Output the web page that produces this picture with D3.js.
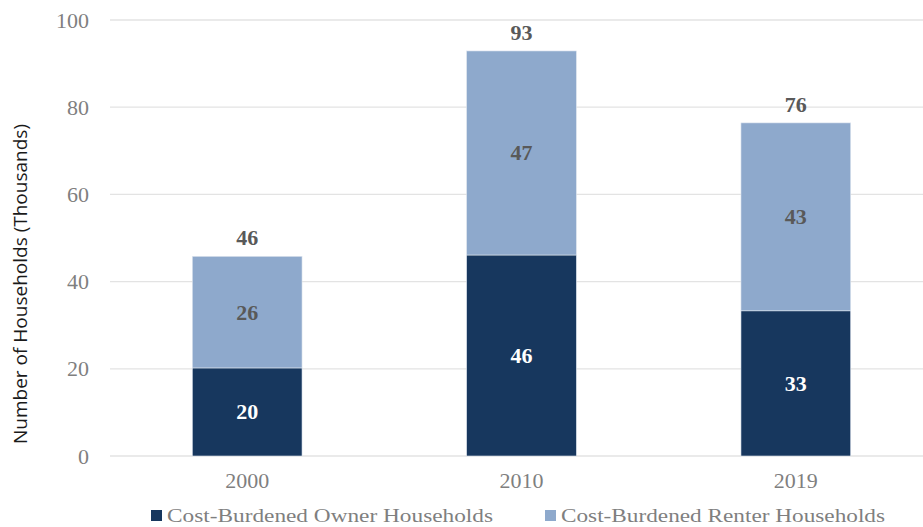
<!DOCTYPE html>
<html lang="en">
<head>
    <meta charset="UTF-8">
    <title>Cost-Burdened Households</title>
    <script src="https://d3js.org/d3.v7.min.js"></script>
    <style>
        body { margin: 0; background: #fff; }
    </style>
</head>
<body>
<div style="width: 923px;height: 527px" id="figure"></div>
<script>
    // data (thousands of households)
    let years = ["2000", "2010", "2019"];
    let owner = [20.2, 46.1, 33.3];
    let renter = [25.6, 46.8, 43.1];
    let yTicks = [0, 20, 40, 60, 80, 100];
    let seriesNames = ["Cost-Burdened Owner Households", "Cost-Burdened Renter Households"];

    let owner_color = "#17375e";
    let renter_color = "#8ea9cc";
    let serif = "'Liberation Serif', 'Times New Roman', serif";

    let figure = document.getElementById("figure");
    let w = figure.clientWidth;
    let h = figure.clientHeight;

    let svg = d3.select(figure).append("svg")
        .attr("width", w)
        .attr("height", h);

    let xScale = d3.scaleBand()
        .domain(years)
        .range([110, 933])
        .paddingInner(0.6)
        .paddingOuter(0.3);
    let yScale = d3.scaleLinear()
        .domain([0, 100])
        .range([456, 20]);

    // gridlines
    svg.append("g").selectAll("line")
        .data(yTicks)
        .join("line")
        .attr("x1", 110)
        .attr("x2", w)
        .attr("y1", d => yScale(d))
        .attr("y2", d => yScale(d))
        .style("stroke", "#e3e3e3")
        .style("stroke-width", 1.3);

    // y axis labels
    let yAxis = svg.append("g")
        .attr("transform", "translate(89,0)")
        .call(d3.axisLeft(yScale).tickValues(yTicks).tickSize(0).tickPadding(0));
    yAxis.select(".domain").remove();
    yAxis.selectAll("text")
        .style("font-family", serif)
        .style("font-size", "22px")
        .style("fill", "#7f7f7f");

    // x axis labels
    let xAxis = svg.append("g")
        .attr("transform", "translate(0,488)")
        .call(d3.axisBottom(xScale).tickSize(0).tickPadding(0));
    xAxis.select(".domain").remove();
    xAxis.selectAll("text")
        .attr("y", 0)
        .attr("dy", 0)
        .style("font-family", serif)
        .style("font-size", "22px")
        .style("fill", "#7f7f7f");

    // axis title
    svg.append("text")
        .attr("transform", "translate(27,284) rotate(-90)")
        .attr("text-anchor", "middle")
        .attr("textLength", 320)
        .attr("lengthAdjust", "spacingAndGlyphs")
        .style("font-family", "'Open Sans', sans-serif")
        .style("font-size", "18px")
        .style("fill", "#1a1a1a")
        .text("Number of Households (Thousands)");

    let rows = years.map((y, i) => ({year: y, owner: owner[i], renter: renter[i]}));
    let stack = d3.stack().keys(["owner", "renter"])(rows);
    let colors = {owner: owner_color, renter: renter_color};

    let bars = svg.append("g");
    stack.forEach(layer => {
        bars.selectAll(null)
            .data(layer)
            .join("rect")
            .attr("x", d => xScale(d.data.year))
            .attr("width", xScale.bandwidth())
            .attr("y", d => yScale(d[1]))
            .attr("height", d => yScale(d[0]) - yScale(d[1]))
            .style("fill", colors[layer.key])
            .style("stroke", "#dfe6ef")
            .style("stroke-width", 0.6);

        // segment labels
        bars.selectAll(null)
            .data(layer)
            .join("text")
            .attr("x", d => xScale(d.data.year) + xScale.bandwidth() / 2)
            .attr("y", d => (yScale(d[0]) + yScale(d[1])) / 2 + 7.5)
            .attr("text-anchor", "middle")
            .style("font-family", serif)
            .style("font-weight", "bold")
            .style("font-size", "22px")
            .style("fill", layer.key === "owner" ? "#ffffff" : "#595959")
            .text(d => Math.round(d[1] - d[0]));
    });

    // totals
    bars.selectAll(null)
        .data(rows)
        .join("text")
        .attr("x", d => xScale(d.year) + xScale.bandwidth() / 2)
        .attr("y", d => yScale(d.owner + d.renter) - 11)
        .attr("text-anchor", "middle")
        .style("font-family", serif)
        .style("font-weight", "bold")
        .style("font-size", "22px")
        .style("fill", "#595959")
        .text(d => Math.round(d.owner + d.renter));

    // legend
    let legendX = [151, 545];
    let legendW = [326, 324];
    let legend = svg.append("g");
    seriesNames.forEach((name, i) => {
        legend.append("rect")
            .attr("x", legendX[i])
            .attr("y", 510)
            .attr("width", 11)
            .attr("height", 11)
            .style("fill", i === 0 ? owner_color : renter_color);
        legend.append("text")
            .attr("x", legendX[i] + 16)
            .attr("y", 522)
            .attr("textLength", legendW[i])
            .attr("lengthAdjust", "spacingAndGlyphs")
            .style("font-family", serif)
            .style("font-size", "19px")
            .style("fill", "#7f7f7f")
            .text(name);
    });
</script>
</body>
</html>
